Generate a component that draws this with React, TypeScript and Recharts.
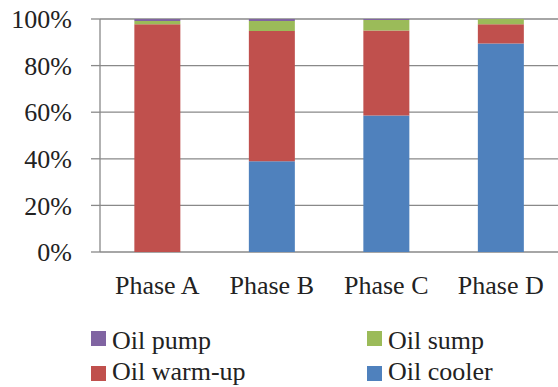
import React from 'react';
import { BarChart, Bar, XAxis, YAxis, CartesianGrid } from 'recharts';

const phases = ['Phase A', 'Phase B', 'Phase C', 'Phase D'];
const oilCooler = [0, 39, 58.6, 89.5];
const oilWarmUp = [97.8, 55.8, 36.5, 8.2];
const oilSump = [1.3, 4.3, 4.5, 2.3];
const oilPump = [0.9, 0.9, 0.4, 0];
const yTicks = [0, 20, 40, 60, 80, 100];
const boundaryTicks = [0, 1, 2, 3, 4];

const seriesNames = {
  pump: 'Oil pump',
  sump: 'Oil sump',
  warm: 'Oil warm-up',
  cooler: 'Oil cooler',
};
const colors = {
  pump: '#8064A2',
  sump: '#9BBB59',
  warm: '#C0504D',
  cooler: '#4F81BD',
};

const data = phases.map((p, i) => ({
  phase: p,
  idx: i + 0.5,
  cooler: oilCooler[i],
  warm: oilWarmUp[i],
  sump: oilSump[i],
  pump: oilPump[i],
}));

const FONT = '"Liberation Serif", serif';
const GRID = '#898989';
const TEXT = '#222';

const legendItems: { key: keyof typeof colors; x: number; sq: number; base: number }[] = [
  { key: 'pump', x: 91, sq: 331, base: 349.5 },
  { key: 'sump', x: 367, sq: 331, base: 349.5 },
  { key: 'warm', x: 91, sq: 366, base: 380.5 },
  { key: 'cooler', x: 367, sq: 366, base: 380.5 },
];

export default function App() {
  return (
    <div style={{ position: 'absolute', left: 0, top: 0, width: 558, height: 387, background: '#fff', fontFamily: FONT, overflow: 'hidden' }}>
      <BarChart
        width={558}
        height={387}
        data={data}
        margin={{ top: 19, right: 0, left: 0, bottom: 95 }}
        barCategoryGap="30%"
      >
        <CartesianGrid vertical={false} stroke={GRID} strokeWidth={1.3} />
        <XAxis
          xAxisId="ticks"
          type="number"
          dataKey="idx"
          domain={[0, 4]}
          ticks={boundaryTicks}
          tick={false}
          tickSize={9}
          height={0}
          axisLine={{ stroke: GRID, strokeWidth: 1.3 }}
          tickLine={{ stroke: GRID, strokeWidth: 1.3 }}
        />
        <XAxis
          xAxisId="cat"
          dataKey="phase"
          height={40}
          axisLine={false}
          tickLine={false}
          tickSize={0}
          tickMargin={24}
          tick={{ fill: TEXT, fontSize: 26, fontFamily: FONT }}
          interval={0}
        />
        <YAxis
          width={100}
          domain={[0, 100]}
          ticks={yTicks}
          tickFormatter={(v: number) => `${v}%`}
          tickSize={9}
          tickMargin={19}
          axisLine={{ stroke: GRID, strokeWidth: 1.3 }}
          tickLine={{ stroke: GRID, strokeWidth: 1.3 }}
          tick={{ fill: TEXT, fontSize: 26, fontFamily: FONT }}
        />
        <Bar xAxisId="cat" dataKey="cooler" stackId="s" fill={colors.cooler} name={seriesNames.cooler} isAnimationActive={false} />
        <Bar xAxisId="cat" dataKey="warm" stackId="s" fill={colors.warm} name={seriesNames.warm} isAnimationActive={false} />
        <Bar xAxisId="cat" dataKey="sump" stackId="s" fill={colors.sump} name={seriesNames.sump} isAnimationActive={false} />
        <Bar xAxisId="cat" dataKey="pump" stackId="s" fill={colors.pump} name={seriesNames.pump} isAnimationActive={false} />
      </BarChart>
      {legendItems.map((it) => (
        <React.Fragment key={it.key}>
          <div
            style={{
              position: 'absolute',
              left: it.x,
              top: it.sq,
              width: 15,
              height: 15,
              background: colors[it.key],
            }}
          />
          <div
            style={{
              position: 'absolute',
              left: it.x + 21,
              top: it.base - 21.8,
              fontSize: 26,
              lineHeight: '26px',
              color: TEXT,
              fontFamily: FONT,
              whiteSpace: 'nowrap',
            }}
          >
            {seriesNames[it.key]}
          </div>
        </React.Fragment>
      ))}
    </div>
  );
}
